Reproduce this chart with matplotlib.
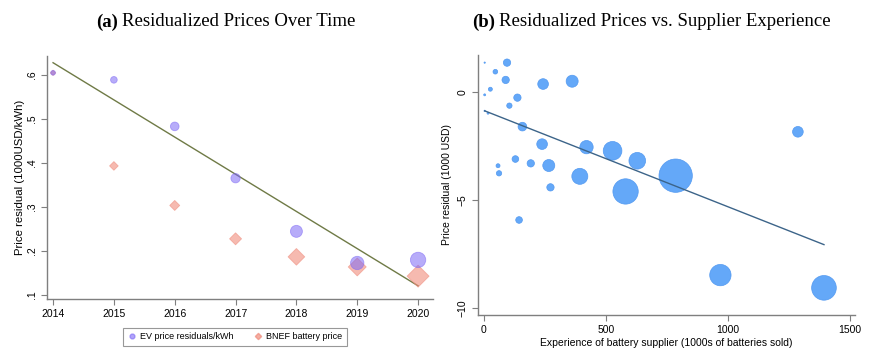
import matplotlib.pyplot as plt
from matplotlib.lines import Line2D

plt.rcParams['font.family'] = ['Liberation Sans', 'DejaVu Sans']

# panel (a) data
years = [2014, 2015, 2016, 2017, 2018, 2019, 2020]
ev_resid = [0.605, 0.589, 0.483, 0.365, 0.244, 0.172, 0.179]
ev_weight = [7, 10, 13, 14, 18, 20, 23]
bnef_price = [0.605, 0.393, 0.303, 0.227, 0.186, 0.163, 0.142]
bnef_weight = [8, 13, 15, 18, 25, 27, 33]
fit_a_x = [2014, 2020]
fit_a_y = [0.628, 0.120]

# panel (b) data
exper = [2.9, 94.6, 46.7, 89, 26.2, 2.9, 242.6, 361.8, 137.2, 104.3, 2.9, 16.6,
         157.7, 238.5, 420.7, 527.6, 629, 128.9, 192, 265.9, 57.7, 61.8, 393.3,
         786.5, 581, 272.8, 144, 1288, 970, 1395]
resid = [1.37, 1.37, 0.95, 0.57, 0.14, -0.12, 0.38, 0.51, -0.25, -0.62, -0.86, -0.97,
         -1.59, -2.40, -2.54, -2.71, -3.17, -3.09, -3.29, -3.39, -3.40, -3.75, -3.89,
         -3.86, -4.59, -4.40, -5.91, -1.83, -8.46, -9.05]
volume = [2, 11, 7, 11, 6, 3, 16, 18, 11, 8, 2, 3,
          13, 16, 20, 28, 25, 10, 11, 18, 6, 8, 24,
          50, 38, 11, 10, 16, 32, 37]
fit_b_x = [2.9, 1395]
fit_b_y = [-0.86, -7.05]

fig = plt.figure(figsize=(8.78, 3.53), dpi=100)
gray = '#7f7f7f'
tick_fs = 7.5


def style(ax):
    for s in ['top', 'right']:
        ax.spines[s].set_visible(False)
    for s in ['left', 'bottom']:
        ax.spines[s].set_color(gray)
        ax.spines[s].set_linewidth(1.0)
    ax.tick_params(colors='black', labelsize=tick_fs, length=4, color=gray)
    for lab in ax.get_yticklabels():
        lab.set_rotation(90)
        lab.set_va('center')


def title(x, tag, rest):
    # bold tag followed by plain text, Times-like serif
    t = fig.text(x, 0.938, tag, fontsize=13.5, fontweight='bold', ha='left',
                 va='center', family='Liberation Serif')
    fig.canvas.draw()
    bb = t.get_window_extent()
    fig.text((bb.x1 + 4) / fig.bbox.width, 0.938, rest, fontsize=13.5, ha='left',
             va='center', family='Liberation Serif')


# (a)
ax1 = fig.add_axes([0.0535, 0.153, 0.44, 0.688])
ax1.plot(fit_a_x, fit_a_y, color='#6f7a46', lw=1.0, zorder=1)
s_ev = [(0.72 * 2 * w / 3) ** 2 for w in ev_weight]
s_bn = [(0.72 * w / 3 / 0.707) ** 2 for w in bnef_weight]
ax1.scatter(years, bnef_price, s=s_bn, marker='D', color='#f08c7c', alpha=0.6,
            edgecolors='#f08c7c', linewidths=0.6, zorder=2)
ax1.scatter(years, ev_resid, s=s_ev, marker='o', color='#7d68f5', alpha=0.55,
            edgecolors='#7d68f5', linewidths=0.6, zorder=3)
ax1.set_xlim(2013.9, 2020.25)
ax1.set_ylim(0.09, 0.643)
ax1.set_xticks(years)
ax1.set_yticks([0.1, 0.2, 0.3, 0.4, 0.5, 0.6])
ax1.set_yticklabels(['.1', '.2', '.3', '.4', '.5', '.6'])
ax1.set_ylabel('Price residual (1000USD/kWh)', fontsize=8.2, labelpad=1)
style(ax1)
handles = [Line2D([], [], ls='none', marker='o', ms=3.5, color='#7d68f5', alpha=0.6),
           Line2D([], [], ls='none', marker='D', ms=3.2, color='#f08c7c', alpha=0.7)]
leg = ax1.legend(handles, ['EV price residuals/kWh', 'BNEF battery price'],
                 loc='upper center', bbox_to_anchor=(0.487, -0.1), ncol=2,
                 fontsize=6.5, frameon=True, fancybox=False, handletextpad=0.4,
                 columnspacing=2.2, borderpad=0.5, handlelength=1.0)
leg.get_frame().set_edgecolor(gray)
leg.get_frame().set_linewidth(0.8)

# (b)
ax2 = fig.add_axes([0.544, 0.108, 0.43, 0.736])
ax2.scatter(exper, resid, s=[0.2304 * v ** 2 for v in volume], color='#5ca3f8',
            alpha=0.95, edgecolors='#4f97f0', linewidths=0.5, zorder=2)
ax2.plot(fit_b_x, fit_b_y, color='#3c6489', lw=1.0, zorder=3)
ax2.set_xlim(-26, 1523)
ax2.set_ylim(-10.3, 1.72)
ax2.set_xticks([0, 500, 1000, 1500])
ax2.set_yticks([-10, -5, 0])
ax2.set_ylabel('Price residual (1000 USD)', fontsize=tick_fs, labelpad=4)
ax2.set_xlabel('Experience of battery supplier (1000s of batteries sold)',
               fontsize=tick_fs, labelpad=2)
style(ax2)

title(96 / 878, '(a)', 'Residualized Prices Over Time')
title(472 / 878, '(b)', 'Residualized Prices vs. Supplier Experience')

fig.savefig('out.png', dpi=100)
